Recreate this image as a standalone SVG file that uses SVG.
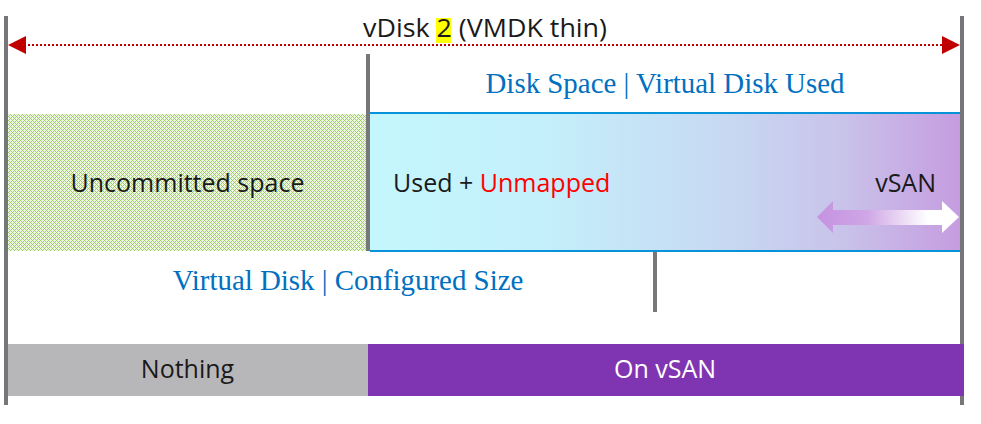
<svg xmlns="http://www.w3.org/2000/svg" width="981" height="424" viewBox="0 0 981 424">
<defs>
<style>
.bar{fill:#77767b}
.sans{font-family:"Open Sans","Noto Sans","Liberation Sans",sans-serif;font-size:25px;fill:#1a1a1a}
.serif{font-family:"Liberation Serif","Times New Roman",serif;font-size:28.9px;fill:#0070c0}
.edge{fill:#0693d9}
</style>
<pattern id="hatch" width="4" height="4" patternUnits="userSpaceOnUse">
<rect width="4" height="4" fill="#eef8e4"/>
<rect x="0" y="0" width="1" height="1" fill="#9ccf60"/>
<rect x="1" y="1" width="1" height="1" fill="#9ccf60"/>
<rect x="2" y="2" width="1" height="1" fill="#9ccf60"/>
<rect x="3" y="3" width="1" height="1" fill="#9ccf60"/>
<rect x="1" y="3" width="1" height="1" fill="#9ccf60"/>
<rect x="3" y="1" width="1" height="1" fill="#9ccf60"/>
</pattern>
<linearGradient id="used" x1="0" y1="0" x2="1" y2="0">
<stop offset="0" stop-color="#c4f7fd"/>
<stop offset="0.3" stop-color="#c4effb"/>
<stop offset="0.6" stop-color="#c7d9f2"/>
<stop offset="0.8" stop-color="#c9c3ea"/>
<stop offset="1" stop-color="#c69ce0"/>
</linearGradient>
<linearGradient id="arr" x1="0" y1="0" x2="1" y2="0">
<stop offset="0" stop-color="#c592e0"/>
<stop offset="0.35" stop-color="#cfa6e6"/>
<stop offset="0.78" stop-color="#ffffff"/>
<stop offset="1" stop-color="#ffffff"/>
</linearGradient>
</defs>
<rect width="981" height="424" fill="#ffffff"/>

<g id="uncommitted">
<rect x="8" y="114" width="358" height="137" fill="url(#hatch)"/>
<text class="sans" x="187.5" y="192" text-anchor="middle">Uncommitted space</text>
</g>

<g id="used-block">
<rect x="370" y="112" width="590" height="140" fill="url(#used)"/>
<rect class="edge" x="370" y="112" width="590" height="2"/>
<rect class="edge" x="370" y="250" width="590" height="2"/>
<text class="sans" x="393" y="192">Used + <tspan fill="#ff0000">Unmapped</tspan></text>
<text class="sans" x="936" y="192" text-anchor="end">vSAN</text>
</g>

<g id="bars">
<rect class="bar" x="4" y="16" width="4" height="389"/>
<rect class="bar" x="960" y="16" width="4" height="389"/>
<rect class="bar" x="366" y="54" width="4" height="197"/>
<rect class="bar" x="653" y="252" width="4" height="60"/>
</g>

<g id="title">
<rect x="436" y="18" width="15" height="25" fill="#ffff00"/>
<text class="sans" x="363" y="37" font-size="24" textLength="244" lengthAdjust="spacingAndGlyphs">vDisk 2 (VMDK thin)</text>
</g>

<g id="label-used">
<text class="serif" x="665" y="93" text-anchor="middle">Disk Space | Virtual Disk Used</text>
</g>

<g id="label-configured">
<text class="serif" x="348" y="290" text-anchor="middle">Virtual Disk | Configured Size</text>
</g>

<g id="nothing">
<rect x="8" y="344" width="360" height="52" fill="#b7b7b9"/>
<text class="sans" x="187.5" y="378" text-anchor="middle">Nothing</text>
</g>

<g id="on-vsan">
<rect x="368" y="344" width="596" height="52" fill="#7f35b2"/>
<text class="sans" x="665" y="378" text-anchor="middle" style="fill:#ffffff">On vSAN</text>
</g>

<g id="connectors">
<line x1="24" y1="45" x2="944" y2="45" stroke="#c00000" stroke-width="2" stroke-dasharray="2 2"/>
<polygon points="8,45 26,36 26,54" fill="#c00000"/>
<polygon points="960,45 942,36 942,54" fill="#c00000"/>
<polygon points="817,217 833,201 833,210 942,210 942,201 959,217 942,233 942,225 833,225 833,233" fill="url(#arr)"/>
</g>
</svg>
